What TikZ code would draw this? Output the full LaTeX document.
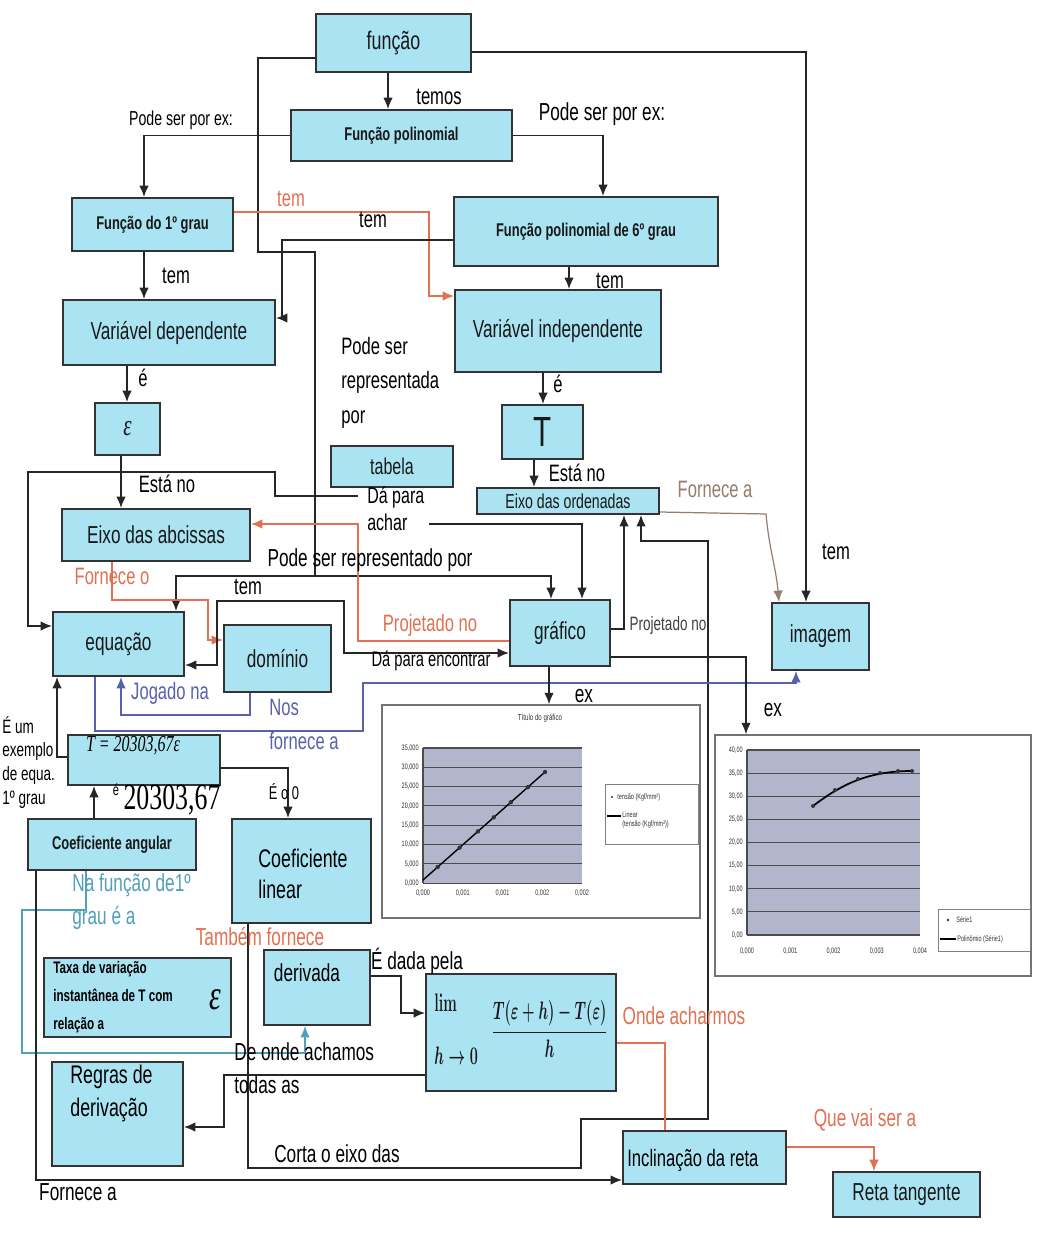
\documentclass[tikz,border=0pt]{standalone}
\usepackage[no-math]{fontspec}
\usepackage{graphicx}
\setmainfont{Liberation Sans}[FakeStretch=0.7]
\newfontfamily\numfont{Liberation Serif}[FakeStretch=0.7]
\usetikzlibrary{arrows.meta}

\newcommand{\fsz}[2]{\fontsize{#1}{#2}\selectfont}

\definecolor{boxblue}{RGB}{170,228,242}
\definecolor{linkred}{RGB}{226,112,82}
\definecolor{linkblue}{RGB}{88,98,172}
\definecolor{linkteal}{RGB}{82,160,188}
\definecolor{linkbrown}{RGB}{150,125,110}
\definecolor{plotgray}{RGB}{178,182,204}

\tikzset{
	box/.style={draw=black!80, fill=boxblue, line width=1pt, inner sep=0pt, text=black!90, font=\fsz{14}{16}},
	wh/.style 2 args={minimum width=#1*0.2mm, minimum height=#2*0.2mm},
	boldtxt/.style={font=\fsz{10.5}{12}\bfseries},
	plain/.style={line width=0.9pt, draw=black!85},
	link/.style={plain, ->, >={Latex[length=2.3mm,width=1.9mm]}},
	lbl/.style={inner sep=0pt, font=\fsz{13.5}{15}},
	axlbl/.style={inner sep=0pt, font=\fsz{4.5}{5.5}, text=black!80}
}

\begin{document}
\begin{tikzpicture}[x=0.2mm, y=-0.2mm]
\fill[white] (0,0) rectangle (1064,1236);

% concepts
\node[box, wh={155}{58}, font=\fsz{14.5}{16}] (func) at (393.5,43) {função};
\node[box, boldtxt, wh={221}{51}] (poli) at (401.5,135.5) {Função polinomial};
\node[box, boldtxt, wh={161}{53}] (grau1) at (152.5,224.5) {Função do 1º grau};
\node[box, boldtxt, wh={264}{69}] (grau6) at (586,231.5) {Função polinomial de 6º grau};
\node[box, wh={212}{65}] (vdep) at (169,332.5) {Variável dependente};
\node[box, wh={206}{82}] (vind) at (558,331) {Variável independente};
\node[box, wh={65}{52}, font=\numfont\itshape\fsz{17}{18}] (eps) at (127.5,429) {ε};
\node[box, wh={81}{54}, font=\fsz{24}{26}] (T) at (542.5,432) {T};
\node[box, wh={122}{41}, font=\fsz{13}{15}] (tab) at (392,466.5) {tabela};
\node[box, wh={182}{26}, font=\fsz{11.5}{13}] (ord) at (568,501) {Eixo das ordenadas};
\node[box, wh={188}{52}] (abc) at (156,535) {Eixo das abcissas};
\node[box, wh={131}{64}] (eq) at (118.5,644) {equação};
\node[box, wh={107}{67}] (dom) at (277.5,658.5) {domínio};
\node[box, wh={100}{66}] (graf) at (560,633) {gráfico};
\node[box, wh={97}{67}] (img) at (820.5,636.5) {imagem};
\node[box, wh={152}{50}] (eqT) at (144,760) {};
\node[inner sep=0pt, font=\numfont\itshape\fsz{13}{14}] (eqTt) at (133,746) {T = 20303,67ε};
\node[box, boldtxt, wh={168}{51}] (cang) at (112,844.5) {Coeficiente angular};
\node[box, wh={139}{104}] (clin) at (301.5,871) {};
\node[inner sep=0pt, anchor=west, align=left, font=\fsz{14.5}{18}] (clint) at (258,874) {Coeficiente\\linear};
\node[box, wh={187}{79}] (taxa) at (137.5,997.5) {};
\node[inner sep=0pt, anchor=north west, align=left, font=\fsz{9.5}{16}\bfseries] (taxat) at (53,961) {Taxa de variação\\instantânea de T com\\relação a};
\node[inner sep=0pt, font=\numfont\itshape\fsz{24}{26}] (taxae) at (215,1000) {ε};
\node[box, wh={106}{75}] (deriv) at (317,987.5) {};
\node[inner sep=0pt, font=\fsz{14}{16}] (derivt) at (307,973) {derivada};
\node[box, wh={190}{117}, font=\fsz{14}{16}] (lim) at (521,1032.5) {\scalebox{0.57}[1]{\boldmath$\begin{array}{@{}l@{}}\mathrm{lim}\\[14pt] h\to 0\end{array}\quad\displaystyle\frac{T(\varepsilon+h)-T(\varepsilon)}{h}$}};
\node[box, wh={131}{104}] (regras) at (117.5,1114) {};
\node[inner sep=0pt, anchor=north west, align=left, font=\fsz{14.5}{18.5}] (regrast) at (70,1065) {Regras de\\derivação};
\node[box, wh={163}{53}] (incl) at (704.5,1157.5) {};
\node[inner sep=0pt, anchor=west, font=\fsz{13.5}{15}] (inclt) at (627,1160) {Inclinação da reta};
\node[box, wh={147}{45}] (reta) at (906.5,1194.5) {Reta tangente};

% charts (frames)
\node[draw=black!55, line width=0.8pt, fill=white, wh={318}{213}] (ch1) at (541,811.5) {};
\node[draw=black!55, line width=0.8pt, fill=white, wh={316}{241}] (ch2) at (873,855.5) {};

% connectors
\draw[link] (func.south -| 388,0) -- (poli.north -| 388,0);
\draw[plain] (func.west |- 0,58) -| (258,252) -| (315,576);
\coordinate (split) at (315,576);
\draw[link] (split) -| (eq.north -| 176,0);
\draw[link] (split) -| (graf.north -| 551,0);
\draw[link] (func.east |- 0,52) -| (img.north -| 806,0);
\draw[link] (poli.west) -| (grau1.north -| 144,0);
\draw[link] (poli.east) -| (grau6.north -| 603,0);
\draw[link] (grau1.south -| 144,0) -- (vdep.north -| 144,0);
\draw[link, draw=linkred] (grau1.east |- 0,212) -| (429,296) -- (vind.west |- 0,296);
\draw[link] (grau6.west |- 0,240) -| (282,318) -- (vdep.east |- 0,318);
\draw[link] (grau6.south -| 569,0) -- (vind.north -| 569,0);
\draw[link] (vdep.south -| 127,0) -- (eps.north -| 127,0);
\draw[link] (vind.south -| 543,0) -- (T.north -| 543,0);
\draw[link] (eps.south -| 121,0) -- (abc.north -| 121,0);
\draw[link] (T.south -| 534,0) -- (ord.north -| 534,0);
\coordinate (tabA) at (358,496);
\coordinate (tabB) at (429,524);
\draw[link] (tabA) -| (275,472) -| (28,626) -- (eq.west |- 0,626);
\draw[link] (tabB) -| (graf.north -| 582,0);
\draw[link] (graf.east |- 0,629) -| (ord.south -| 624,0);
\draw[link] (clin.south -| 248,0) |- (581,1168) |- (708,1119) |- (641,541) -- (ord.south -| 641,0);
\draw[link, draw=linkbrown, line width=0.7pt] (ord.east |- 0,512) -- (766,514) to[out=-85, in=95] (img.north -| 779,0);
\draw[link, draw=linkred] (graf.west |- 0,641) -| (358,524) -- (abc.east |- 0,524);
\draw[link, draw=linkred] (abc.south -| 112,0) |- (208,600) |- (dom.west |- 0,640);
\draw[link, <->] (eq.east |- 0,665) -| (217,601) -| (344,653) -- (graf.west |- 0,653);
\draw[link, draw=linkblue] (dom.south -| 250,0) |- (121,715) -- (eq.south -| 121,0);
\draw[link, draw=linkblue] (eq.south -| 95,0) |- (363,731) |- (796,683) -- (img.south -| 796,0);
\draw[link] (eqT.west |- 0,757) -| (eq.south -| 57,0);
\draw[link] (cang.north -| 94,0) -- (eqT.south -| 94,0);
\draw[link] (eqT.east |- 0,768) -| (clin.north -| 288,0);
\draw[link, draw=linkteal] (cang.south -| 86,0) |- (22,910) |- (305,1053) -- (deriv.south -| 305,0);
\draw[link] (deriv.east |- 0,976) -| (401,1013) -- (lim.west |- 0,1013);
\draw[link] (lim.west |- 0,1075) -| (224,1127) -- (regras.east |- 0,1127);
\draw[plain, draw=linkred] (lim.east |- 0,1043) -| (incl.north -| 665,0);
\draw[link] (cang.south -| 36,0) |- (incl.west |- 0,1180);
\draw[link, draw=linkred, line width=0.7pt] (incl.east |- 0,1147) -| (reta.north -| 874,0);
\draw[link] (graf.south -| 549,0) -- (ch1.north -| 549,0);
\draw[link] (graf.east |- 0,657) -| (ch2.north -| 746,0);

% link labels
\node[lbl] (temos) at (439,97) {temos};
\node[lbl, font=\fsz{11.5}{13}] (exA) at (181,120) {Pode ser por ex:};
\node[lbl, font=\fsz{14}{16}] (exB) at (602,114) {Pode ser por ex:};
\node[lbl, text=linkred] (temR) at (291,199) {tem};
\node[lbl] (temB) at (373,220) {tem};
\node[lbl] (temC) at (176,276) {tem};
\node[lbl] (temD) at (610,281) {tem};
\node[lbl] (eA) at (143,378) {é};
\node[lbl] (eB) at (558,384) {é};
\node[lbl, anchor=north west, align=left, font=\fsz{13.5}{19.5}] (repr) at (341,337) {Pode ser\\representada\\por};
\node[lbl] (estaA) at (167,484) {Está no};
\node[lbl] (estaB) at (577,473) {Está no};
\node[lbl, anchor=north west, align=left, font=\fsz{13}{15.5}] (dapara) at (367,486) {Dá para\\achar};
\node[lbl, text=linkbrown] (forA) at (715,489) {Fornece a};
\node[lbl] (temE) at (836,552) {tem};
\node[lbl, font=\fsz{14}{16}] (reprB) at (370,560) {Pode ser representado por};
\node[lbl, text=linkred] (forO) at (112,576) {Fornece o};
\node[lbl] (temF) at (248,587) {tem};
\node[lbl, text=linkred] (projA) at (430,625) {Projetado no};
\node[lbl, font=\fsz{11}{13}, text=black!75] (projB) at (668,625) {Projetado no};
\node[lbl, font=\fsz{12}{14}] (encontrar) at (431,661) {Dá para encontrar};
\node[lbl, text=linkblue] (jogado) at (170,693) {Jogado na};
\node[lbl, text=linkblue, anchor=north west, align=left, font=\fsz{13.5}{19}] (nos) at (269,699) {Nos\\fornece a};
\node[lbl, font=\fsz{14}{16}] (exC) at (584,696) {ex};
\node[lbl, font=\fsz{14}{16}] (exD) at (773,710) {ex};
\node[lbl, anchor=north west, align=left, font=\fsz{11}{13.5}] (exemplo) at (2,716) {É um\\exemplo\\de equa.\\1º grau};
\node[lbl, font=\fsz{9}{10}] (eC) at (116,790) {é};
\node[lbl, font=\numfont\fsz{21}{22}] (coefv) at (172,800) {20303,67};
\node[lbl, font=\fsz{10.5}{12}] (eo) at (284,792) {É o 0};
\node[lbl, text=linkteal, anchor=north west, align=left, font=\fsz{14}{19}] (nafunc) at (72,873) {Na função de1º\\grau é a};
\node[lbl, text=linkred, font=\fsz{14}{16}] (tambem) at (260,937) {Também fornece};
\node[lbl, font=\fsz{14}{16}] (dada) at (417,961) {É dada pela};
\node[lbl, anchor=north west, align=left, font=\fsz{14}{19}] (deonde) at (234,1042) {De onde achamos\\todas as};
\node[lbl, text=linkred, font=\fsz{14}{16}] (onde) at (684,1016) {Onde acharmos};
\node[lbl, font=\fsz{14}{16}] (corta) at (337,1154) {Corta o eixo das};
\node[lbl, font=\fsz{14}{16}] (fornB) at (78,1192) {Fornece a};
\node[lbl, text=linkred, font=\fsz{14}{16}] (quevai) at (865,1120) {Que vai ser a};

% first chart
\node[axlbl, font=\fsz{5}{6}] (ch1t) at (540,718) {Título do gráfico};
\fill[plotgray] (423,748) rectangle (582,883);
\foreach \k/\v in {0/35,1/30,2/25,3/20,4/15,5/10,6/5,7/0}{
	\draw[black!70, line width=0.6pt] (423,{748+\k*19.29}) -- (582,{748+\k*19.29});
	\node[axlbl, anchor=east] (ya\k) at (419,{748+\k*19.29}) {\v,000};
}
\draw[black!70, line width=0.6pt] (423,748) -- (423,883);
\foreach \k/\v in {0/{0,000},1/{0,001},2/{0,001},3/{0,002},4/{0,002}}
	\node[axlbl] (xa\k) at ({423+\k*39.75},893) {\v};
\draw[black, line width=0.8pt] (423,880) -- (545,772);
\foreach \t in {0.12,0.3,0.45,0.58,0.72,0.86,1}
	\fill[black!80] ({423+\t*122},{880-\t*108}) circle (2.2);
\node[draw=black!50, fill=white, wh={93}{60}] (leg1) at (651.5,814) {};
\fill[black!80] (612,797) circle (1.2);
\node[axlbl, anchor=west] (leg1a) at (617,797) {tensão (Kgf/mm²)};
\draw[line width=0.8pt] (607,816) -- (621,816);
\node[axlbl, anchor=west, align=left] (leg1b) at (622,820) {Linear\\(tensão (Kgf/mm²))};

% second chart
\fill[plotgray] (747,750) rectangle (920,935);
\foreach \k/\v in {0/40,1/35,2/30,3/25,4/20,5/15,6/10,7/5,8/0}{
	\draw[black!70, line width=0.6pt] (747,{750+\k*23.125}) -- (920,{750+\k*23.125});
	\node[axlbl, anchor=east] (yb\k) at (743,{750+\k*23.125}) {\v,00};
}
\draw[black!70, line width=0.6pt] (747,750) -- (747,935);
\foreach \k/\v in {0/{0,000},1/{0,001},2/{0,002},3/{0,003},4/{0,004}}
	\node[axlbl] (xb\k) at ({747+\k*43.25},951) {\v};
\draw[black, line width=1pt] (813,806) .. controls (843,783) and (870,771) .. (912,771);
\foreach \p in {(813,806),(835,790),(858,779),(880,773),(898,771),(912,771)}
	\fill[black!80] \p circle (2);
\node[draw=black!50, fill=white, wh={92}{42}] (leg2) at (984,930) {};
\fill[black!80] (948,920) circle (1.3);
\node[axlbl, anchor=west] (leg2a) at (956,920) {Série1};
\draw[line width=0.8pt] (940,939) -- (956,939);
\node[axlbl, anchor=west] (leg2b) at (957,939) {Polinômio (Série1)};
\end{tikzpicture}
\end{document}
